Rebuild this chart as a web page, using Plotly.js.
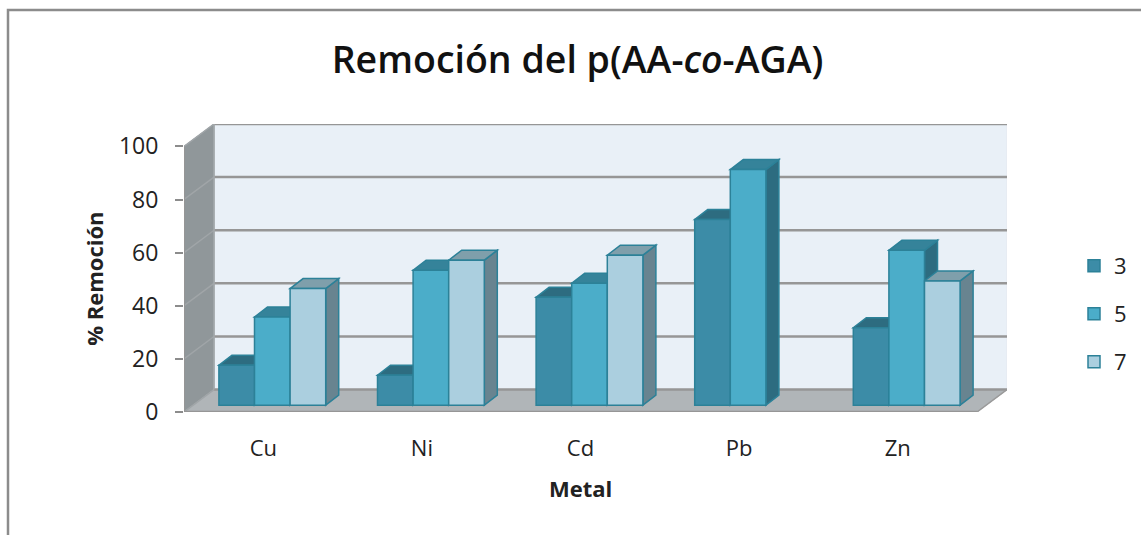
<!DOCTYPE html>
<html><head><meta charset="utf-8">
<script src="https://cdn.plot.ly/plotly-3.0.1.min.js"></script>
<style>html,body{margin:0;padding:0;background:#fff}#c{width:1141px;height:535px}</style>
</head><body><div id="c"></div>
<script>
const metals = ["Cu","Ni","Cd","Pb","Zn"];
const series3 = [15,11.3,40.6,69.9,29.2];
const series5 = [33.2,50.8,45.9,88.7,58.3];
const series7 = [43.9,54.6,56.5,null,46.8];
const seriesNames = ["3","5","7"];
const yTicks = [0,20,40,60,80,100];

const frontFill = ["#3c8ca7","#4badc9","#abcfdf"];
const topFill = ["#2d6c80","#35839a","#7f9fab"];
const sideFill = ["#2d6c80","#2d6c80","#688490"];
const edge = "#2c8198";

const W=1141,H=535,L=184,R=1007,T=124.3,B=412;
const catPx=158.6, valPx=2.657;
const wallX=30/catPx, wallY=22.4/valPx;      // depth of the floor
const barX=13/catPx, barY=10/valPx;          // depth of a bar
const liftX=9/catPx, liftY=6.8/valPx;        // bars stand inside the floor
const barW=35.6/catPx;
const xMax=5+wallX, yMax=100+wallY;

const allSeries=[series3,series5,series7];
const xOf=(i,s)=>i+0.5+liftX+(s-1)*barW;

const poly=(pts,fill,line,lw)=>({type:"path",xref:"x",yref:"y",layer:"below",
  path:"M"+pts.map(p=>p.join(",")).join("L")+"Z",fillcolor:fill,
  line:{color:line||fill,width:lw===undefined?1:lw}});
const seg=(x0,y0,x1,y1,c,w)=>({type:"line",xref:"x",yref:"y",layer:"below",x0,y0,x1,y1,line:{color:c,width:w}});
const px=(x)=>(x-L)/(R-L), py=(y)=>(B-y)/(B-T);

const shapes=[];
// back wall, side wall, floor
shapes.push(poly([[wallX,wallY],[xMax,wallY],[xMax,yMax],[wallX,yMax]],"#e9f0f7","#e4e9ee",1));
shapes.push(poly([[0,0],[wallX,wallY],[wallX,yMax],[0,100]],"#90979a","#90979a",1));
shapes.push(poly([[0,0],[5,0],[xMax,wallY],[wallX,wallY]],"#b0b5b8","#b0b5b8",1));
yTicks.forEach(t=>{
  shapes.push(seg(wallX,t+wallY,xMax,t+wallY,"#969696",2.5));
  shapes.push(seg(0,t,wallX,t+wallY,"#a0a5a8",1.5));
});
shapes.push(seg(wallX,wallY,wallX,yMax,"#a5aaad",1.5));
shapes.push(seg(0,0,5,0,"#969696",2.5));
shapes.push(seg(0,0,0,100,"#969696",2));
shapes.push(seg(5,0,xMax,wallY,"#9a9a9a",1.5));
// bar tops and sides, back to front
allSeries.forEach((vals,s)=>{
  vals.forEach((v,i)=>{
    if(v===null) return;
    const x0=xOf(i,s)-barW/2, x1=xOf(i,s)+barW/2, y0=liftY, y1=liftY+v;
    shapes.push(poly([[x1,y0],[x1+barX,y0+barY],[x1+barX,y1+barY],[x1,y1]],sideFill[s],edge,1.5));
    shapes.push(poly([[x0,y1],[x1,y1],[x1+barX,y1+barY],[x0+barX,y1+barY]],topFill[s],edge,1.5));
  });
});
// chart frame
const frame={type:"path",xref:"paper",yref:"paper",layer:"above",
  path:`M${px(8)},${py(535)}L${px(8)},${py(10.5)}L${px(1141)},${py(10.5)}`,
  line:{color:"#8c8c8c",width:2.5}};
shapes.push(frame);

const traces=allSeries.map((vals,s)=>({
  type:"bar",name:seriesNames[s],legendgroup:seriesNames[s],
  x:metals.map((m,i)=>xOf(i,s)),y:vals,base:liftY,width:barW,
  marker:{color:frontFill[s],line:{color:edge,width:1.5}},
  hoverinfo:"y+name"
}));

const font="'Open Sans','Noto Sans',sans-serif";
const layout={
  width:W,height:H,paper_bgcolor:"#fff",plot_bgcolor:"rgba(0,0,0,0)",
  margin:{l:L,r:W-R,t:T,b:H-B,pad:0,autoexpand:false},barmode:"overlay",
  font:{family:font,color:"#222"},
  title:{text:"Remoción del p(AA-<i>co</i>-AGA)",font:{size:37.5,family:font,weight:600,color:"#111"},
    x:577.5/W,xanchor:"center",y:1-60/H,yanchor:"middle",xref:"container",yref:"container"},
  xaxis:{range:[0,xMax],tickmode:"array",tickvals:metals.map((m,i)=>i+0.5),ticktext:metals,
    showgrid:false,zeroline:false,showline:false,ticks:"",tickfont:{size:22,color:"#222"},ticklabelstandoff:21},
  yaxis:{range:[0,yMax],tickmode:"array",tickvals:yTicks,showgrid:false,zeroline:false,
    showline:false,ticks:"outside",ticklen:8,tickwidth:2,tickcolor:"#8c8c8c",tickfont:{size:23,color:"#222"},ticklabelstandoff:12},
  shapes,
  showlegend:true,
  legend:{x:px(1074),y:py(245),xanchor:"left",yanchor:"top",traceorder:"grouped",tracegroupgap:16.5,
    font:{size:22,color:"#222"},bgcolor:"rgba(0,0,0,0)"},
  annotations:[
    {text:"<b>Metal</b>",xref:"paper",yref:"paper",x:px(580),y:py(488),showarrow:false,xanchor:"center",yanchor:"middle",font:{size:22,color:"#222"}},
    {text:"<b>% Remoción</b>",xref:"paper",yref:"paper",x:px(94),y:py(279),showarrow:false,textangle:-90,xanchor:"center",yanchor:"middle",font:{size:22,color:"#222"}}
  ]
};
Plotly.newPlot("c",traces,layout,{displayModeBar:false,responsive:false});
</script></body></html>
